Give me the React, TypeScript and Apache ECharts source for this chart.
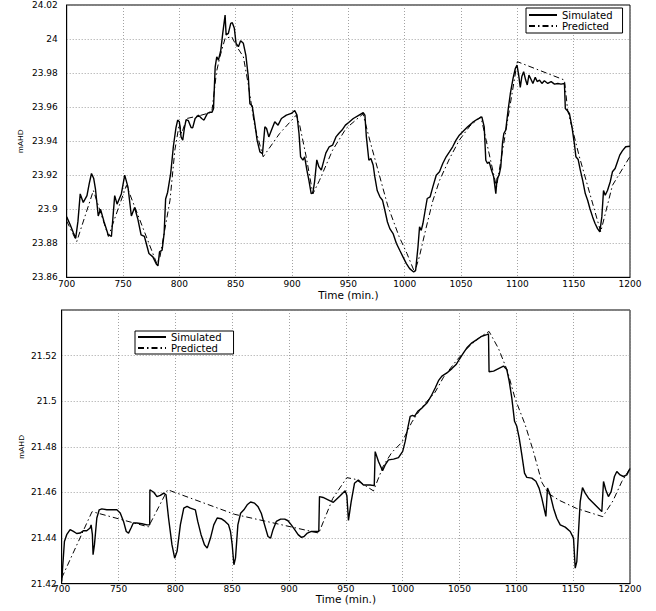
import React, { useEffect, useRef } from "react";
import * as echarts from "echarts";

// ---------- data ----------
const seriesNames = ["Simulated", "Predicted"];
const xTitle = "Time (min.)";
const yTitle = "mAHD";

// Top panel — simulated
const topSimTime = [
  700, 703, 706, 708, 710, 712, 714.7, 718, 720, 722, 724, 725.5, 728, 730, 733, 736.8, 739.7, 742.6, 744.7, 748.5,
  751.5, 754.4, 757.4, 760.3, 763.2, 766, 769, 773, 776.5, 779.4, 781, 782.4, 784.7, 786.5, 787.8, 789.6, 792.3, 794.7,
  797, 798.5, 800, 801.5, 803, 804.4, 806, 808, 810.4, 811.8, 814, 816.9, 819.8, 821.9, 824.9, 827.2, 829, 830.3,
  831.8, 833.2, 834.7, 836.8, 838.5, 840.6, 841.5, 843.5, 845.6, 847, 848.8, 850.3, 852.4, 854.4, 856.8, 859, 861.2,
  862.6, 864.7, 867, 869, 871.5, 873.8, 875.9, 877.4, 879.4, 881.8, 884.7, 887.6, 890.6, 895, 899.4, 902.4, 904.4,
  906.2, 907.6, 909.7, 911.2, 913.2, 915, 917, 918.5, 920, 922, 923.8, 926, 928, 930, 933, 936, 939, 941.5, 944.4,
  947.4, 950.3, 954.4, 958.8, 963.2, 964.7, 966, 968.2, 970, 972, 973.5, 975.6, 978, 980.3, 982.4, 984.7, 986.8,
  989.7, 992.6, 995.6, 998.5, 1001.5, 1004.4, 1008, 1009.7, 1011.8, 1013.2, 1014.7, 1016.2, 1018.2, 1020, 1022.6,
  1025, 1028, 1030.9, 1033.8, 1036.8, 1039.7, 1042.6, 1045.6, 1048.5, 1051.5, 1055.9, 1060.3, 1064.7, 1068.5,
  1070.6, 1072, 1073.5, 1075, 1077, 1079, 1080.9, 1082, 1083.8, 1085.3, 1086.8, 1088, 1089.7, 1091.8, 1093.8,
  1096.2, 1098.2, 1099.7, 1101.2, 1102.6, 1104, 1105.6, 1107.4, 1108.8, 1110.3, 1112.4, 1113.8, 1115.9, 1117.6,
  1119.7, 1121.8, 1124, 1127, 1130, 1133, 1135.9, 1138.8, 1141.8, 1142.6, 1144, 1146.2, 1148.5, 1150.6, 1152, 1154,
  1155.9, 1158, 1160.3, 1162.4, 1164.4, 1166.8, 1169, 1171.2, 1173.2, 1175, 1176.5, 1178, 1180, 1182.4, 1184.4,
  1186.8, 1188.8, 1190.9, 1193.2, 1196.2, 1200,
];
const topSimLevel = [
  23.8955, 23.891, 23.886, 23.883, 23.893, 23.909, 23.904, 23.908, 23.915, 23.921, 23.918, 23.912, 23.896, 23.9,
  23.893, 23.885, 23.884, 23.908, 23.903, 23.909, 23.92, 23.913, 23.896, 23.901, 23.894, 23.885, 23.884, 23.874,
  23.872, 23.868, 23.8667, 23.875, 23.876, 23.886, 23.906, 23.91, 23.921, 23.937, 23.948, 23.9524, 23.9514, 23.9425,
  23.9406, 23.9474, 23.9527, 23.952, 23.948, 23.9478, 23.9533, 23.9553, 23.9533, 23.9524, 23.9563, 23.957, 23.957,
  23.959, 23.9837, 23.9896, 23.9876, 23.9935, 24.0033, 24.0141, 24.0024, 24.0033, 24.0092, 24.0096, 24.0063,
  23.9975, 23.9955, 23.999, 23.9975, 23.9906, 23.9778, 23.962, 23.9606, 23.9504, 23.9406, 23.9337, 23.9327,
  23.9484, 23.9474, 23.9425, 23.9465, 23.9514, 23.9494, 23.9533, 23.9553, 23.9563, 23.958, 23.9553, 23.9445,
  23.9308, 23.9288, 23.9308, 23.923, 23.917, 23.9092, 23.9096, 23.916, 23.929, 23.925, 23.923, 23.928, 23.933,
  23.9367, 23.9376, 23.9425, 23.9445, 23.9465, 23.9494, 23.951, 23.9533, 23.955, 23.9567, 23.9553, 23.9425,
  23.9288, 23.9298, 23.926, 23.919, 23.911, 23.9073, 23.9053, 23.8994, 23.8925, 23.8886, 23.8857, 23.88, 23.8759,
  23.872, 23.868, 23.8651, 23.8631, 23.864, 23.8778, 23.8896, 23.8876, 23.8916, 23.8994, 23.9063, 23.9073, 23.9131,
  23.92, 23.922, 23.9269, 23.9308, 23.9337, 23.9367, 23.9406, 23.9435, 23.9455, 23.9484, 23.951, 23.953, 23.9543,
  23.9484, 23.9288, 23.9269, 23.9278, 23.923, 23.919, 23.9092, 23.918, 23.92, 23.9249, 23.9386, 23.9445, 23.9465,
  23.9582, 23.968, 23.9769, 23.9827, 23.9847, 23.9788, 23.9716, 23.978, 23.9808, 23.9759, 23.973, 23.9788, 23.9759,
  23.9739, 23.9775, 23.975, 23.9759, 23.9739, 23.9755, 23.9739, 23.975, 23.9735, 23.9739, 23.9735, 23.9739,
  23.9592, 23.9582, 23.9563, 23.9484, 23.9386, 23.9308, 23.9292, 23.923, 23.917, 23.9092, 23.9053, 23.9004,
  23.8955, 23.8916, 23.8886, 23.8867, 23.8955, 23.911, 23.9082, 23.911, 23.916, 23.922, 23.9239, 23.9278, 23.9318,
  23.9343, 23.9367, 23.937,
];

// Top panel — predicted
const topPredTime = [
  700, 708.9, 723.7, 737, 753, 780, 782.8, 791.7, 796, 800, 802, 806.5, 818, 828.8, 833, 836, 840.6, 846.5, 851,
  856.8, 861, 867, 874.4, 889, 903.8, 906.8, 912.6, 918.5, 924.4, 936, 948, 963, 969, 985, 995, 1002, 1008.8, 1013,
  1019, 1025, 1031, 1040, 1048.5, 1058, 1067.6, 1071, 1081.5, 1100, 1141.8, 1144.7, 1155, 1174, 1184.4, 1200,
];
const topPredLevel = [
  23.893, 23.881, 23.911, 23.884, 23.914, 23.868, 23.872, 23.9053, 23.9347, 23.9504, 23.9445, 23.9533, 23.955,
  23.957, 23.9808, 23.9896, 24.0004, 24.0014, 23.9955, 23.9896, 23.974, 23.9484, 23.9308, 23.9445, 23.9553,
  23.9494, 23.9308, 23.909, 23.917, 23.9347, 23.9475, 23.956, 23.9406, 23.902, 23.884, 23.874, 23.863, 23.872,
  23.889, 23.905, 23.917, 23.93, 23.9406, 23.949, 23.9543, 23.9445, 23.913, 23.9867, 23.9759, 23.958, 23.931,
  23.8867, 23.914, 23.931,
];

// Bottom panel — simulated
const botSimTime = [
  700, 702.4, 704.4, 707.4, 710.3, 713.2, 716.2, 719, 722, 725, 725.9, 727, 727.6, 728.8, 730.9, 733, 735.3, 739.7,
  744, 748.5, 751.5, 754.4, 756.8, 758.8, 761, 763, 766, 770.6, 775, 777.4, 777.6, 781, 783.8, 786.8, 789.7, 791.8,
  794, 797, 799.4, 801.5, 804.4, 807.4, 810.3, 813.2, 817.6, 819.7, 822.6, 825.6, 828, 830.9, 833.8, 836.8, 840.3,
  843.8, 846.8, 848.5, 850, 851.5, 852.9, 855, 857.4, 860.3, 863.2, 866.2, 869.7, 872.6, 875.6, 878.5, 881.5, 883.8,
  885.9, 888.8, 892.6, 896.2, 899.1, 902, 905, 908, 910.9, 913.2, 916.2, 919.7, 926.2, 926.8, 930, 934.4, 939, 945,
  949.4, 950.9, 952.3, 954.7, 957.6, 961, 965.5, 971.4, 975, 975.8, 978.7, 982.3, 984.6, 987.5, 992, 996.3, 1000,
  1002.2, 1004.5, 1006.6, 1008.7, 1010.4, 1013.3, 1016.9, 1021.3, 1025, 1028.6, 1031.5, 1034.5, 1038.9, 1043.3,
  1047, 1049.7, 1053.5, 1056.5, 1060.9, 1065.2, 1069.6, 1074, 1075.5, 1076, 1080, 1084.3, 1088.7, 1091.6, 1093.7,
  1096, 1098.4, 1100.4, 1102.5, 1104.8, 1107.2, 1109.2, 1113.6, 1117.2, 1120, 1122.4, 1124.7, 1126, 1127.4, 1129.8,
  1132.7, 1135.6, 1138.6, 1143, 1147.4, 1150.3, 1151.8, 1153.2, 1156.2, 1158.2, 1160.6, 1163.5, 1167.9, 1172.3,
  1175.2, 1176.7, 1178.7, 1181, 1183.4, 1186.3, 1188.4, 1191.3, 1194.2, 1197.2, 1200,
];
const botSimLevel = [
  21.421, 21.4385, 21.4415, 21.4437, 21.4429, 21.442, 21.4422, 21.4432, 21.4432, 21.4444, 21.4458, 21.4415,
  21.4327, 21.437, 21.4488, 21.4524, 21.4528, 21.4524, 21.4524, 21.4524, 21.451, 21.4473, 21.4429, 21.4422,
  21.4444, 21.4466, 21.4466, 21.4463, 21.4458, 21.4458, 21.4612, 21.4601, 21.4582, 21.4587, 21.4597, 21.459,
  21.4488, 21.4371, 21.4312, 21.4342, 21.4458, 21.4531, 21.4539, 21.4531, 21.4524, 21.4473, 21.4415, 21.4371,
  21.4356, 21.44, 21.4458, 21.4488, 21.4485, 21.4473, 21.4458, 21.4429, 21.4371, 21.4283, 21.4312, 21.4458,
  21.4509, 21.4524, 21.4546, 21.4558, 21.4553, 21.4539, 21.4509, 21.4458, 21.4407, 21.44, 21.4437, 21.4473,
  21.4483, 21.4483, 21.4476, 21.4458, 21.4437, 21.4415, 21.4403, 21.4407, 21.4422, 21.4429, 21.4429, 21.4582,
  21.4578, 21.4568, 21.4557, 21.4586, 21.4608, 21.4586, 21.4477, 21.456, 21.464, 21.4655, 21.4633, 21.4633,
  21.463, 21.4779, 21.4736, 21.4695, 21.4721, 21.4743, 21.4746, 21.4753, 21.478, 21.4824, 21.4883, 21.4934,
  21.4938, 21.4934, 21.4956, 21.497, 21.4992, 21.5022, 21.5058, 21.509, 21.511, 21.5124, 21.5143, 21.5161,
  21.5183, 21.5212, 21.5234, 21.5256, 21.527, 21.5285, 21.5292, 21.5295, 21.5129, 21.5132, 21.5143, 21.5154,
  21.5139, 21.5088, 21.5015, 21.4912, 21.489, 21.4839, 21.4766, 21.4685, 21.4666, 21.4663, 21.4649, 21.4619,
  21.4575, 21.4524, 21.4495, 21.4619, 21.459, 21.4531, 21.4487, 21.4458, 21.4448, 21.4429, 21.44, 21.4268,
  21.4297, 21.456, 21.4621, 21.4597, 21.4575, 21.4553, 21.4531, 21.4516, 21.4648, 21.4611, 21.4582, 21.4604,
  21.467, 21.4692, 21.4677, 21.467, 21.4677, 21.4705,
];

// Bottom panel — predicted
const botPredTime = [
  700, 726.7, 776.3, 793.2, 852.3, 926.2, 938.5, 950.9, 958.2, 974.3, 983, 990.5, 999.3, 1008, 1016.9, 1028.6,
  1036, 1047.6, 1057.9, 1068.2, 1076, 1084.3, 1092, 1099, 1107.7, 1115, 1122.4, 1128.3, 1138, 1153, 1176, 1185,
  1192.8, 1200,
];
const botPredLevel = [
  21.4225, 21.4516, 21.4449, 21.4612, 21.4504, 21.4422, 21.4574, 21.4665, 21.4658, 21.4607, 21.4717, 21.4776,
  21.482, 21.4908, 21.4974, 21.504, 21.5106, 21.518, 21.5238, 21.5282, 21.5306, 21.5231, 21.5135, 21.501, 21.4898,
  21.478, 21.4645, 21.4595, 21.4565, 21.453, 21.4494, 21.4563, 21.4648, 21.4705,
];

// ---------- chart ----------
const FONT = "'DejaVu Sans', sans-serif";
const zip = (t: number[], v: number[]) => t.map((x, i) => [x, v[i]]);
const fmtY = (v: number) => String(+v.toFixed(2));
const fmtX = (v: number) => String(Math.round(v));

const gridLine = { show: true, lineStyle: { color: "#8a8a8a", type: [1, 2], width: 0.8 } };
const axisLineBlack = { show: true, lineStyle: { color: "#000", width: 1 } };

export default function App() {
  const ref = useRef<HTMLDivElement>(null);
  useEffect(() => {
    if (!ref.current) return;
    const chart = echarts.init(ref.current, undefined, { renderer: "svg" });
    const simLine = { color: "#000", width: 1.4, type: "solid" as const };
    const predLine = { color: "#000", width: 1, type: [6, 3, 1.5, 3] };
    const legendBase = {
      data: seriesNames,
      orient: "vertical" as const,
      itemWidth: 28,
      itemHeight: 7,
      itemGap: 1,
      borderColor: "#000",
      borderWidth: 1,
      borderRadius: 0,
      backgroundColor: "#fff",
      selectedMode: false,
      itemStyle: { opacity: 0 },
      textStyle: { fontSize: 10, fontFamily: FONT, color: "#000", lineHeight: 8 },
    };
    chart.setOption({
      animation: false,
      backgroundColor: "#fff",
      color: ["#000", "#000"],
      textStyle: { fontFamily: FONT, color: "#000" },
      grid: [
        { left: 66.7, right: 26, top: 5, height: 272.3, show: true, borderColor: "#000", borderWidth: 1 },
        { left: 61.7, right: 26, top: 310, height: 273.7, show: true, borderColor: "#000", borderWidth: 1 },
      ],
      xAxis: [0, 1].map((g) => ({
        type: "value",
        gridIndex: g,
        min: 700,
        max: 1200,
        interval: 50,
        axisLine: axisLineBlack,
        axisTick: { show: false },
        splitLine: gridLine,
        axisLabel: { fontSize: 9, fontFamily: FONT, color: "#000", margin: g === 0 ? 2 : 1, formatter: fmtX },
        name: xTitle,
        nameLocation: "middle",
        nameGap: g === 0 ? 12.5 : 10,
        nameMoveOverlap: false,
        nameTextStyle: { fontSize: 10.5, fontFamily: FONT, color: "#000" },
      })),
      yAxis: [
        {
          type: "value",
          gridIndex: 0,
          min: 23.86,
          max: 24.02,
          interval: 0.02,
          axisLine: axisLineBlack,
          axisTick: { show: false },
          splitLine: gridLine,
          axisLabel: { fontSize: 9, fontFamily: FONT, color: "#000", margin: 9, formatter: fmtY },
          name: yTitle,
          nameLocation: "middle",
          nameRotate: 90,
          nameGap: 42,
          nameMoveOverlap: false,
          nameTextStyle: { fontSize: 8, fontFamily: "'Liberation Sans', sans-serif", color: "#000" },
        },
        {
          type: "value",
          gridIndex: 1,
          min: 21.42,
          max: 21.54,
          interval: 0.02,
          axisLine: axisLineBlack,
          axisTick: { show: false },
          splitLine: gridLine,
          axisLabel: {
            fontSize: 9,
            fontFamily: FONT,
            color: "#000",
            margin: 5,
            showMaxLabel: false,
            formatter: (v: number) => (Math.abs(v - 21.54) < 1e-6 ? "" : fmtY(v)),
          },
          name: yTitle,
          nameLocation: "middle",
          nameRotate: 90,
          nameGap: 36,
          nameMoveOverlap: false,
          nameTextStyle: { fontSize: 8, fontFamily: "'Liberation Sans', sans-serif", color: "#000" },
        },
      ],
      legend: [
        { ...legendBase, left: 526, top: 8, padding: [2, 10, 2, 2] },
        { ...legendBase, left: 135, top: 331, padding: [1, 12, 1, 2] },
      ],
      series: [
        { name: seriesNames[0], type: "line", xAxisIndex: 0, yAxisIndex: 0, symbol: "none", itemStyle: { color: "#000" }, lineStyle: simLine, data: zip(topSimTime, topSimLevel) },
        { name: seriesNames[1], type: "line", xAxisIndex: 0, yAxisIndex: 0, symbol: "none", itemStyle: { color: "#000" }, lineStyle: predLine, data: zip(topPredTime, topPredLevel) },
        { name: seriesNames[0], type: "line", xAxisIndex: 1, yAxisIndex: 1, symbol: "none", itemStyle: { color: "#000" }, lineStyle: simLine, data: zip(botSimTime, botSimLevel) },
        { name: seriesNames[1], type: "line", xAxisIndex: 1, yAxisIndex: 1, symbol: "none", itemStyle: { color: "#000" }, lineStyle: predLine, data: zip(botPredTime, botPredLevel) },
      ],
    });
    return () => chart.dispose();
  }, []);
  return (
    <div
      ref={ref}
      style={{ position: "absolute", left: 0, top: 0, width: 656, height: 611, background: "#fff" }}
    />
  );
}
